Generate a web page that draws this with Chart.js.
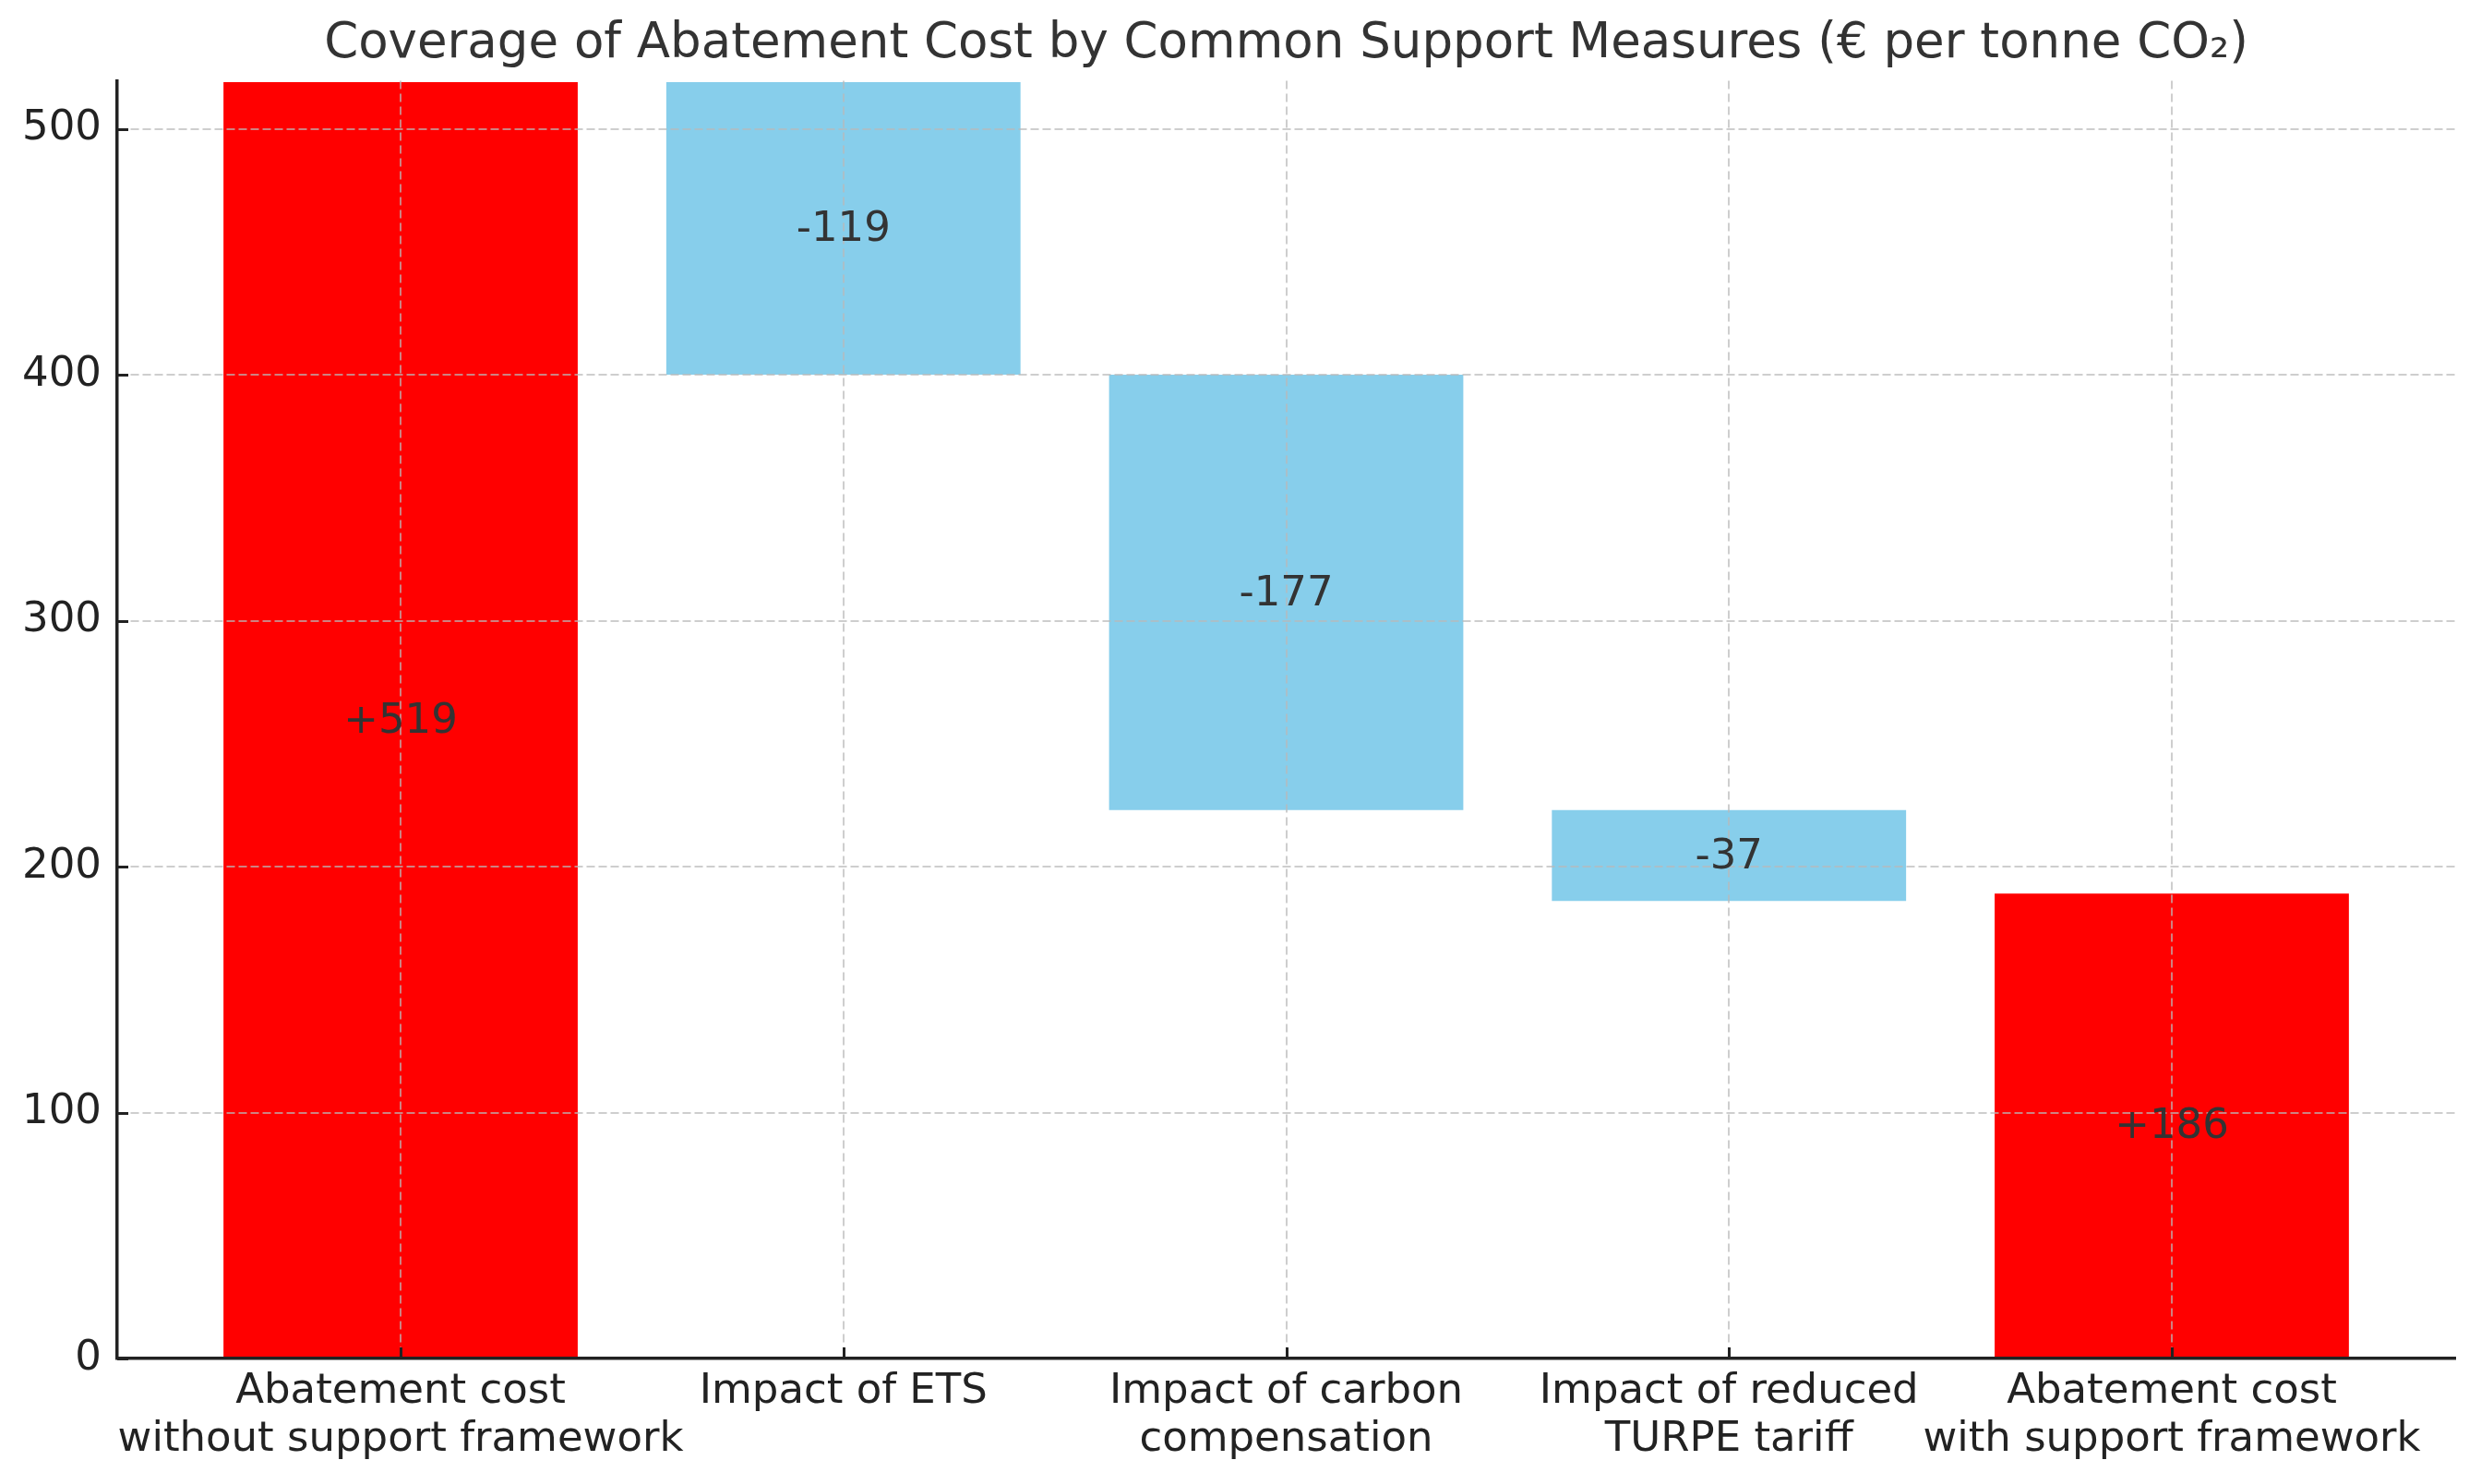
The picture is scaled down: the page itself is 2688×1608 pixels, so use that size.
<!DOCTYPE html>
<html>
<head>
<meta charset="utf-8">
<style>
  html, body { margin: 0; padding: 0; background: #fff; overflow: hidden; }
  canvas { display: block; }
</style>
<script src="https://cdn.jsdelivr.net/npm/chart.js@4"></script>
</head>
<body>
<canvas id="chart" width="2688" height="1608"></canvas>
<script>
  // categories (two-line tick labels)
  const categories = [
    ['Abatement cost', 'without support framework'],
    ['Impact of ETS'],
    ['Impact of carbon', 'compensation'],
    ['Impact of reduced', 'TURPE tariff'],
    ['Abatement cost', 'with support framework']
  ];
  // 'total' bars start at zero, 'delta' bars float from the running total
  const barKinds = ['total', 'delta', 'delta', 'delta', 'total'];
  const barValues = [519, -119, -177, -37, 189];
  const barLabels = ['+519', '-119', '-177', '-37', '+186'];
  const barColors = ['#ff0000', '#87ceeb', '#87ceeb', '#87ceeb', '#ff0000'];
  const yTicks = [0, 100, 200, 300, 400, 500];

  let running = 0;
  const ranges = barValues.map((v, i) => {
    if (barKinds[i] === 'total') {
      running = v;
      return { x: i, y: [0, v] };
    }
    const r = { x: i, y: [running, running + v] };
    running += v;
    return r;
  });

  Chart.defaults.font.family = "'DejaVu Sans', sans-serif";

  const gridColor = 'rgba(185,185,185,0.7)';
  const axisColor = '#222';

  // matplotlib-style inward tick marks
  const innerTicks = {
    id: 'innerTicks',
    afterDraw(chart) {
      const ctx = chart.ctx;
      const x = chart.scales.x, y = chart.scales.y;
      ctx.save();
      ctx.strokeStyle = axisColor;
      ctx.lineWidth = 3;
      ctx.beginPath();
      yTicks.forEach(v => {
        const py = Math.round(y.getPixelForValue(v)) + 0.5;
        ctx.moveTo(x.left, py);
        ctx.lineTo(x.left + 12, py);
      });
      categories.forEach((c, i) => {
        const px = Math.round(x.getPixelForValue(i)) + 0.5;
        ctx.moveTo(px, y.bottom);
        ctx.lineTo(px, y.bottom - 12);
      });
      ctx.stroke();
      ctx.restore();
    }
  };

  // value text in the middle of each bar
  const barText = {
    id: 'barText',
    afterDraw(chart) {
      const ctx = chart.ctx;
      const meta = chart.getDatasetMeta(0);
      ctx.save();
      ctx.font = "45px 'DejaVu Sans', sans-serif";
      ctx.fillStyle = '#333';
      ctx.textAlign = 'center';
      ctx.textBaseline = 'middle';
      meta.data.forEach((el, i) => {
        ctx.fillText(barLabels[i], el.x, (el.y + el.base) / 2 + 2);
      });
      ctx.restore();
    }
  };

  new Chart(
    document.getElementById('chart'),
    {
      type: 'bar',
      data: {
        datasets: [{
          data: ranges,
          backgroundColor: barColors,
          borderWidth: 0,
          barPercentage: 1,
          categoryPercentage: 0.8
        }]
      },
      options: {
        responsive: false,
        animation: false,
        devicePixelRatio: 1,
        layout: {
          padding: { left: 0, right: 28, top: 0, bottom: 0 }
        },
        plugins: {
          legend: { display: false },
          tooltip: { enabled: false },
          title: {
            display: true,
            fullSize: false,
            text: 'Coverage of Abatement Cost by Common Support Measures (€ per tonne CO₂)',
            color: '#333',
            font: { size: 53, weight: 'normal', lineHeight: 1.2 },
            padding: { top: 16, bottom: 8 }
          }
        },
        scales: {
          x: {
            type: 'linear',
            min: -0.64,
            max: 4.64,
            offset: false,
            afterBuildTicks: scale => {
              scale.ticks = categories.map((c, i) => ({ value: i }));
            },
            afterFit: scale => { scale.height = 136; },
            grid: {
              offset: false,
              z: 1,
              color: gridColor,
              lineWidth: 2,
              drawTicks: false
            },
            border: { z: 2, color: axisColor, width: 3.5, dash: [9, 5] },
            ticks: {
              color: axisColor,
              font: { size: 45, lineHeight: 1.14 },
              padding: 11,
              maxRotation: 0,
              autoSkip: false,
              callback: value => categories[value]
            }
          },
          y: {
            min: 0,
            max: 519.5,
            afterBuildTicks: scale => {
              scale.ticks = yTicks.map(v => ({ value: v }));
            },
            afterFit: scale => { scale.width = 127; },
            grid: {
              z: 1,
              color: ctx => (ctx.tick && ctx.tick.value === 0 ? 'rgba(0,0,0,0)' : gridColor),
              lineWidth: 2,
              drawTicks: false
            },
            border: { z: 2, color: axisColor, width: 3.5, dash: [9, 4] },
            ticks: {
              color: axisColor,
              font: { size: 45 },
              padding: 17,
              callback: value => String(value)
            }
          }
        }
      },
      plugins: [innerTicks, barText]
    }
  );
</script>
</body>
</html>
